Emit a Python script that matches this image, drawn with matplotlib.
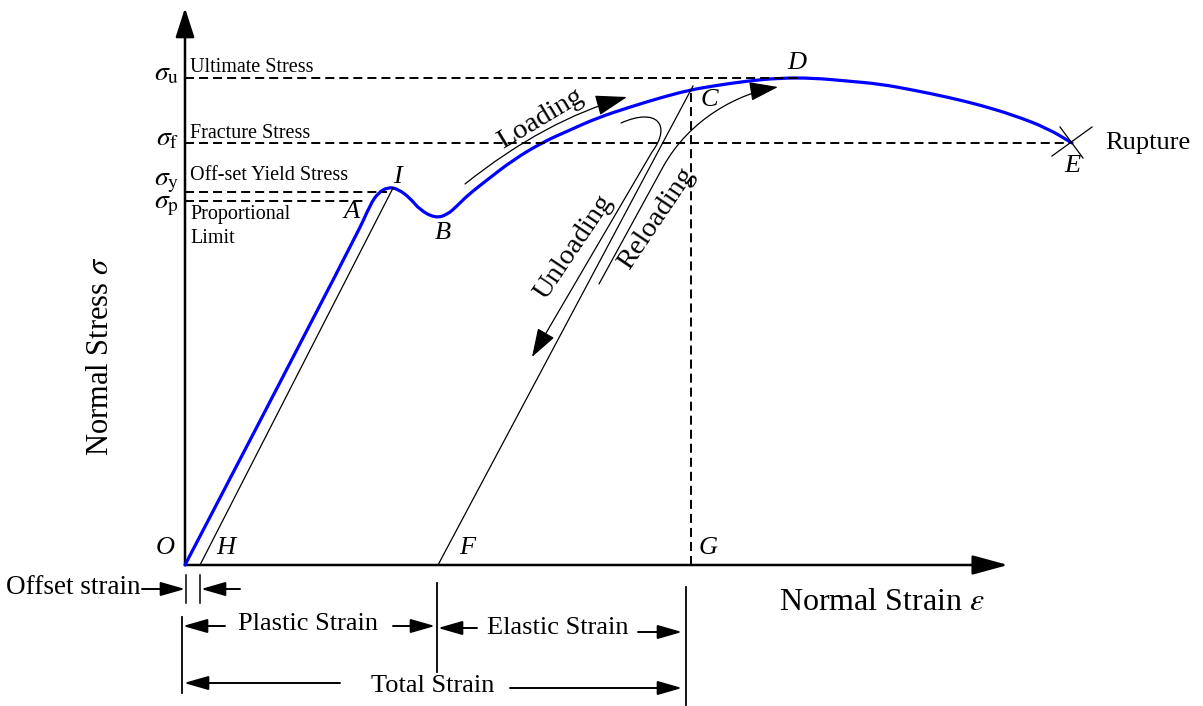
import numpy as np
import matplotlib
matplotlib.use("Agg")
import matplotlib.pyplot as plt
from matplotlib.path import Path
from matplotlib.patches import PathPatch, FancyArrowPatch

plt.rcParams['font.family'] = ['Liberation Serif', 'DejaVu Serif']
plt.rcParams['mathtext.fontset'] = 'stix'
plt.rcParams['lines.scale_dashes'] = False

# stress-strain curve (strain, stress), arbitrary units
curve_strain = [0, 172, 185, 193, 203, 213, 225, 235, 250, 262, 273, 283, 302, 328, 358, 385,
                412, 445, 478, 505, 528, 562, 595, 628, 662, 695, 728, 762, 795, 828, 862, 887]
curve_stress = [0, 330, 360, 372, 378, 376, 367, 355, 347, 350, 360, 370, 385, 405, 423, 435,
                447, 458, 468, 475, 479, 484, 487, 487, 484, 481, 475, 468, 460, 450, 437, 422]

# stress levels
stress_names = ['u', 'f', 'y', 'p']
stress_levels = [487, 422, 373, 364]
stress_line_end = [613, 885, 202, 180]
stress_texts = ['Ultimate Stress', 'Fracture Stress', 'Off-set Yield Stress', 'Proportional\nLimit']

# strain points on axis
strain_H = 15
strain_F = 253
strain_G = 506
point_I = (208, 377)
point_C = (508, 479)
point_E = (887, 422)

# labelled points
point_labels = ['O', 'H', 'F', 'G', 'A', 'I', 'B', 'C', 'D', 'E']
label_x = [-20, 41, 282, 523, 167, 212, 258, 524, 612, 887]
label_y = [17, 17, 17, 17, 353, 388, 332, 465, 502, 399]

# loading / unloading / reloading arrows
loading_path = [(280, 381), (360, 445), (442, 468)]
unloading_path = [(436, 442), (472, 458), (487, 440), (467, 413), (347, 208)]
reloading_path = [(414, 281), (478, 398), (505, 447), (555, 472), (593, 478)]

fig = plt.figure(figsize=(12.03, 7.06), dpi=100)
ax = fig.add_axes([0, 0, 1, 1])
ax.set_xlim(-185, 1018)
ax.set_ylim(-141, 565)
ax.axis('off')


def arrow(p0, p1, lw=1.4, hl=15, hw=4.3, path=None):
    style = '-|>,head_length=%g,head_width=%g' % (hl, hw)
    if path is None:
        a = FancyArrowPatch(p0, p1, arrowstyle=style, mutation_scale=1, lw=lw,
                            color='black', shrinkA=0, shrinkB=0)
    else:
        a = FancyArrowPatch(path=path, arrowstyle=style, mutation_scale=1, lw=lw, color='black')
    ax.add_patch(a)


# axes with arrows
arrow((0, 0), (0, 557), lw=1.8, hl=18, hw=5.8)
arrow((0, 0), (823, 0), lw=1.8, hl=22, hw=6.0)

# dashed reference lines
dash = (0, (6.5, 3.6))
for lev, xe in zip(stress_levels, stress_line_end):
    ax.plot([0, xe], [lev, lev], color='black', lw=1.4, linestyle=dash)
ax.plot([strain_G, strain_G], [0, point_C[1] - 2], color='black', lw=1.4, linestyle=dash)

# thin offset and unloading lines
ax.plot([strain_H, point_I[0]], [0, point_I[1]], color='black', lw=0.9)
ax.plot([strain_F, point_C[0]], [0, point_C[1]], color='black', lw=0.9)

# blue curve, smoothed through the read points with quadratic beziers
pts = np.column_stack([curve_strain, curve_stress]).astype(float)
verts = [pts[0]]
codes = [Path.MOVETO]
for i in range(1, len(pts) - 1):
    mid = (pts[i] + pts[i + 1]) / 2
    verts += [pts[i], mid]
    codes += [Path.CURVE3, Path.CURVE3]
verts.append(pts[-1])
codes.append(Path.LINETO)
ax.add_patch(PathPatch(Path(verts, codes), fill=False, edgecolor='#0000ff', lw=2.3,
                       capstyle='round', joinstyle='round'))

# rupture cross at E
ax.plot([point_E[0] - 12, point_E[0] + 11], [point_E[1] + 16, point_E[1] - 15], color='black', lw=0.9)
ax.plot([point_E[0] - 20, point_E[0] + 20], [point_E[1] - 13, point_E[1] + 16], color='black', lw=0.9)
ax.text(point_E[0] + 33, point_E[1], 'Rupture', fontsize=19, ha='left', va='center')

# loading arrows
arrow(None, None, lw=0.9, hl=20, hw=6.5, path=Path(loading_path, [Path.MOVETO, Path.CURVE3, Path.CURVE3]))
arrow(None, None, lw=0.9, hl=18, hw=6,
      path=Path(unloading_path, [Path.MOVETO, Path.CURVE4, Path.CURVE4, Path.CURVE4, Path.LINETO]))
arrow(None, None, lw=0.9, hl=18, hw=6,
      path=Path(reloading_path, [Path.MOVETO, Path.LINETO, Path.CURVE4, Path.CURVE4, Path.CURVE4]))
ax.text(355, 446, 'Loading', fontsize=20.5, rotation=31, rotation_mode='anchor', ha='center', va='center')
ax.text(389, 318, 'Unloading', fontsize=20.5, rotation=56, rotation_mode='anchor', ha='center', va='center')
ax.text(471, 346, 'Reloading', fontsize=20.5, rotation=56, rotation_mode='anchor', ha='center', va='center')

# stress labels on the vertical axis
stress_base = [485, 420, 380, 357]
for name, yb in zip(stress_names, stress_base):
    ax.text(-6, yb, r'$\sigma_{\mathrm{%s}}$' % name, fontsize=20, ha='right', va='baseline')
text_y = [497, 432, 389]
for t, yt in zip(stress_texts[:3], text_y):
    ax.text(5, yt, t, fontsize=14.5, ha='left', va='center')
ax.text(5, 360, stress_texts[3], fontsize=14.5, ha='left', va='top', linespacing=1.35)

# point labels
for lab, x, y in zip(point_labels, label_x, label_y):
    ax.text(x, y, lab, fontsize=19, style='italic', ha='center', va='center')

# axis titles
ax.text(-85, 209, r'Normal Stress $\sigma$', fontsize=22, rotation=90, ha='center', va='center')
ax.text(697, -37, r'Normal Strain $\varepsilon$', fontsize=23, ha='center', va='center')

# strain dimension lines below the axis
ax.plot([1, 1], [-10, -38], color='black', lw=1.1)
ax.plot([strain_H, strain_H], [-10, -38], color='black', lw=1.1)
arrow((-43, -24), (0, -24))
arrow((55, -24), (16, -24))
ax.text(-44, -22, 'Offset strain', fontsize=19.5, ha='right', va='center')

ax.plot([-3, -3], [-52, -128], color='black', lw=1.3)
ax.plot([252, 252], [-18, -107], color='black', lw=1.3)
ax.plot([501, 501], [-22, -140], color='black', lw=1.3)

arrow((40, -61), (-2, -61))
ax.text(123, -59, 'Plastic Strain', fontsize=19, ha='center', va='center')
arrow((208, -61), (250, -61))

arrow((292, -63), (253, -63))
ax.text(373, -63, 'Elastic Strain', fontsize=19, ha='center', va='center')
arrow((453, -67), (497, -67))

arrow((155, -118), (-1, -118))
ax.text(248, -121, 'Total Strain', fontsize=19, ha='center', va='center')
arrow((325, -123), (497, -123))

fig.savefig('out.png', dpi=100)
